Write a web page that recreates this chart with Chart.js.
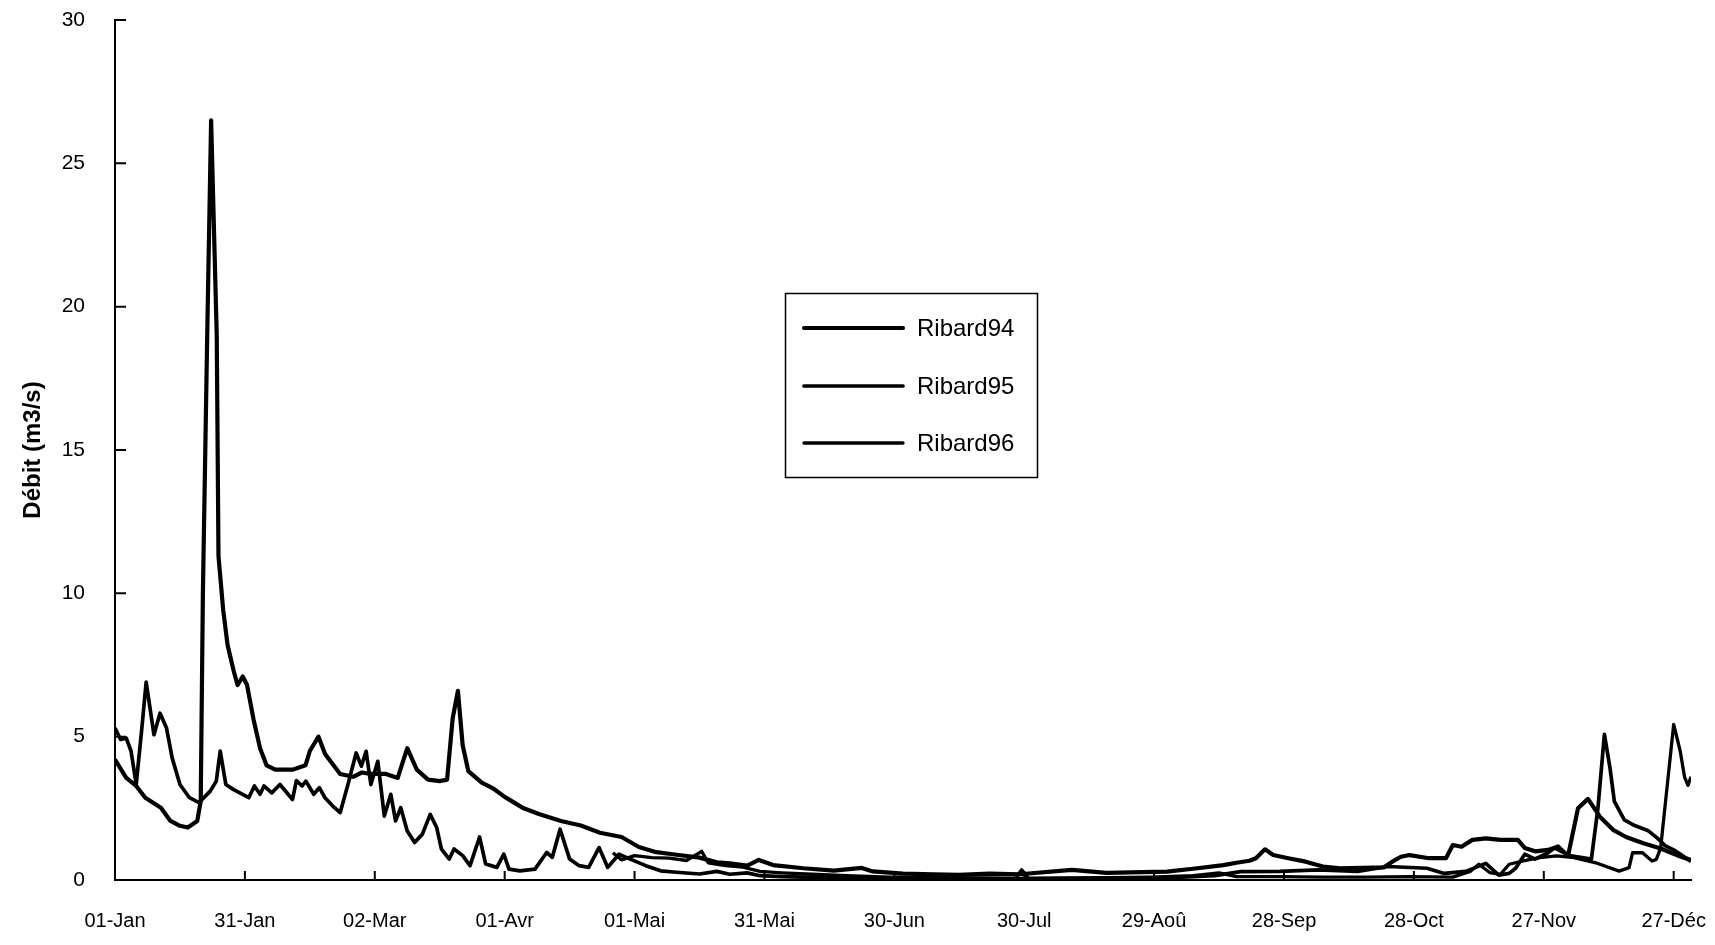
<!DOCTYPE html>
<html>
<head>
<meta charset="utf-8">
<script src="https://cdn.jsdelivr.net/npm/chart.js@4.4.0/dist/chart.umd.min.js"></script>
<style>
  html, body { margin: 0; padding: 0; background: #fff; }
  #wrap { width: 1715px; height: 945px; }
</style>
</head>
<body>
<div id="wrap"><canvas id="chart" width="1715" height="945"></canvas></div>
<script>
// x axis: day of year, labelled every 30 days
const tickDays = [1, 31, 61, 91, 121, 151, 181, 211, 241, 271, 301, 331, 361];
const tickLabels = ['01-Jan', '31-Jan', '02-Mar', '01-Avr', '01-Mai', '31-Mai', '30-Jun',
  '30-Jul', '29-Aoû', '28-Sep', '28-Oct', '27-Nov', '27-Déc'];
const yTicks = [0, 5, 10, 15, 20, 25, 30];

const seriesNames = ['Ribard94', 'Ribard95', 'Ribard96'];

// Ribard94 (big January flood)
const days94 = [1, 3.6, 5.9, 8, 11.6, 13.8, 16, 17.8, 20, 20.8, 21.3, 22.3, 23.2, 24.5, 24.9, 26, 27,
  28.4, 29.3, 30.5, 31.5, 33, 34.5, 36, 38, 42, 45, 46, 48, 49.5, 51, 53, 56, 58, 60, 63.6, 66.3,
  68.5, 70.7, 73.3, 76, 77.7, 79, 80.2, 81.3, 82.6, 85.7, 88.3, 91, 95.4, 98.9, 104, 108.6, 113,
  118, 122, 126, 130.7, 136, 140, 143, 147, 149.7, 153, 160, 167, 173.5, 176, 183, 190, 196, 203,
  210, 222, 230, 244, 251, 257, 260, 263, 264.5, 266.6, 268.5, 272, 276, 280, 284, 294, 296, 298,
  300, 304.5, 308.4, 310, 312, 314.5, 317.6, 321, 325, 326.6, 329, 332, 334.3, 336.6, 338.9,
  341.2, 344, 347, 350, 354, 358, 362, 365];
const flow94 = [4.2, 3.56, 3.28, 2.87, 2.52, 2.06, 1.89, 1.83, 2.06, 2.75, 10, 19, 26.5, 19, 11.3, 9.4, 8.2,
  7.3, 6.8, 7.1, 6.8, 5.6, 4.6, 4.0, 3.85, 3.85, 4.0, 4.5, 5.0, 4.4, 4.1, 3.7, 3.6, 3.75, 3.7, 3.7, 3.56,
  4.6, 3.85, 3.5, 3.45, 3.5, 5.65, 6.6, 4.7, 3.8, 3.4, 3.2, 2.9, 2.5, 2.3, 2.06, 1.9, 1.65,
  1.5, 1.15, 0.97, 0.88, 0.78, 0.62, 0.58, 0.5, 0.7, 0.52, 0.41, 0.33, 0.42, 0.3, 0.22, 0.2, 0.18, 0.22,
  0.2, 0.35, 0.25, 0.29, 0.41, 0.52, 0.6, 0.67, 0.76, 1.07, 0.87, 0.76, 0.64, 0.47, 0.41, 0.44, 0.64, 0.81,
  0.87, 0.76, 0.76, 1.22, 1.16, 1.4, 1.45, 1.4, 1.4, 1.12, 1.0, 1.05, 1.17, 0.84, 2.5,
  2.83, 2.2, 1.75, 1.5, 1.28, 1.1, 0.85, 0.7];

// Ribard95 (spiky spring, November flood)
const days95 = [1, 2.3, 3.6, 4.7, 5.9, 7.2, 8.2, 10, 11.4, 12.9, 14.2, 16, 18.2, 20.4, 23, 24.4, 25.3,
  26.6, 28.3, 31.9, 33.2, 34.5, 35.4, 37.2, 39.1, 42, 42.9, 44.2, 45.1, 46.9, 48.2, 49.5, 51.3, 53,
  54.8, 56.7, 57.9, 59, 60.1, 61.7, 63.2, 64.7, 65.8, 67, 68.5, 70.2, 72, 73.8, 75.3, 76.4, 78.2,
  79.3, 81.3, 83, 85.2, 86.6, 89.2, 90.8, 92, 94.5, 98, 100.7, 102, 103.8, 106, 108.2, 110.4, 112.8,
  114.8, 117.4, 120, 123.6, 127, 130.7, 136, 140, 143, 147, 150, 155, 160, 170, 180, 190, 200, 209,
  210.4, 212, 225, 235, 245, 255, 261, 270, 279, 288, 295, 304, 308, 313, 317.6, 320.6, 323, 324.5,
  326.6, 329, 332, 333.5, 335, 337.3, 342, 343.5, 345, 346.3, 347.3, 349.6, 352, 355, 357.3, 359,
  361, 363, 365];
const flow95 = [5.3, 4.9, 4.95, 4.5, 3.33, 5.3, 6.9, 5.07, 5.82, 5.3, 4.26, 3.33, 2.87, 2.7, 3.1, 3.45, 4.5,
  3.33, 3.16, 2.87, 3.28, 2.99, 3.28, 3.04, 3.33, 2.81, 3.47, 3.28, 3.45, 2.99, 3.22, 2.87, 2.58, 2.35,
  3.33, 4.43, 3.97, 4.49, 3.33, 4.14, 2.23, 2.99, 2.06, 2.52, 1.71, 1.31, 1.6, 2.29, 1.83, 1.08, 0.73,
  1.08, 0.85, 0.5, 1.5, 0.56, 0.44, 0.9, 0.38, 0.32, 0.38, 0.96, 0.79, 1.77, 0.73, 0.5, 0.44, 1.13,
  0.44, 0.9, 0.73, 0.5, 0.32, 0.27, 0.21, 0.3, 0.2, 0.25, 0.15, 0.12, 0.1, 0.08, 0.06, 0.05, 0.05, 0.06,
  0.35, 0.05, 0.05, 0.06, 0.08, 0.15, 0.29, 0.3, 0.35, 0.3, 0.47, 0.41, 0.23, 0.3, 0.58, 0.17, 0.23, 0.41,
  0.9, 0.73, 0.95, 1.12, 1.0, 0.84, 0.73, 2.5, 5.08, 3.9, 2.74, 2.1, 1.9, 1.73, 1.45, 1.2,
  1.05, 0.85, 0.65];

// Ribard96 (record starts late April, December flood)
const days96 = [116, 118, 121, 125, 129, 133, 136.5, 138, 142, 146, 150, 155, 162, 170, 180, 190, 200,
  210, 220, 230, 240, 250, 256, 260, 270, 280, 290, 300, 310, 314, 316, 318.5, 321, 323, 326, 330,
  334, 338, 343, 348.4, 350.7, 351.5, 353.8, 356, 357, 358, 361, 362.5, 363.5, 364.3, 365];
const flow96 = [0.95, 0.7, 0.85, 0.78, 0.76, 0.68, 1.0, 0.6, 0.5, 0.45, 0.3, 0.25, 0.2, 0.15, 0.1, 0.08, 0.07,
  0.06, 0.07, 0.08, 0.1, 0.15, 0.25, 0.12, 0.12, 0.1, 0.1, 0.12, 0.1, 0.3, 0.55, 0.26, 0.2, 0.55, 0.66, 0.78,
  0.84, 0.78, 0.6, 0.31, 0.43, 0.95, 0.95, 0.66, 0.72, 1.13, 5.43, 4.5, 3.6, 3.3, 3.6];

const toPoints = (days, flows) => days.map((d, i) => ({ x: d, y: flows[i] }));

// draws the short inward tick marks of the original
const innerTicks = {
  id: 'innerTicks',
  afterDatasetsDraw(chart) {
    const { ctx, chartArea, scales } = chart;
    ctx.save();
    ctx.strokeStyle = '#000';
    ctx.lineWidth = 2;
    ctx.beginPath();
    yTicks.forEach(v => {
      const py = scales.y.getPixelForValue(v);
      ctx.moveTo(chartArea.left, py);
      ctx.lineTo(chartArea.left + 11, py);
    });
    tickDays.forEach(d => {
      if (d === tickDays[0]) return;
      const px = scales.x.getPixelForValue(d);
      ctx.moveTo(px, chartArea.bottom);
      ctx.lineTo(px, chartArea.bottom - 9);
    });
    ctx.stroke();
    ctx.restore();
  }
};

// boxed legend floating in the middle of the plot
const LEG = { x: 785, y: 293, w: 252, h: 184, rows: [328, 386, 443], x0: 804, x1: 903, tx: 917 };
const boxLegend = {
  id: 'boxLegend',
  afterDraw(chart) {
    const ctx = chart.ctx;
    ctx.save();
    ctx.fillStyle = '#fff';
    ctx.fillRect(LEG.x, LEG.y, LEG.w, LEG.h);
    ctx.strokeStyle = '#000';
    ctx.lineWidth = 1.5;
    ctx.strokeRect(LEG.x + 0.5, LEG.y + 0.5, LEG.w, LEG.h);
    chart.data.datasets.forEach((ds, i) => {
      const yy = LEG.rows[i];
      ctx.lineWidth = ds.borderWidth;
      ctx.lineCap = 'round';
      ctx.beginPath();
      ctx.moveTo(LEG.x0, yy);
      ctx.lineTo(LEG.x1, yy);
      ctx.stroke();
      ctx.fillStyle = '#000';
      ctx.font = '24px Arial, "Liberation Sans", sans-serif';
      ctx.textBaseline = 'middle';
      ctx.fillText(ds.label, LEG.tx, yy + 1);
    });
    ctx.restore();
  }
};

const widths = [4.2, 3.7, 3.3];
const seriesData = [toPoints(days94, flow94), toPoints(days95, flow95), toPoints(days96, flow96)];

new Chart(document.getElementById('chart'), {
  type: 'line',
  data: {
    datasets: seriesNames.map((name, i) => ({
      label: name,
      data: seriesData[i],
      borderColor: '#000',
      borderWidth: widths[i],
      pointRadius: 0,
      tension: 0,
      fill: false,
      borderJoinStyle: 'round'
    }))
  },
  options: {
    responsive: false,
    animation: false,
    devicePixelRatio: 1,
    layout: { padding: { top: 20, right: 24, left: 0, bottom: 0 } },
    plugins: {
      legend: { display: false },
      tooltip: { enabled: false }
    },
    scales: {
      x: {
        type: 'linear',
        min: 1,
        max: 365,
        afterBuildTicks: s => { s.ticks = tickDays.map(v => ({ value: v })); },
        afterFit: s => { s.height = 65; s.paddingLeft = 0; s.paddingRight = 0; },
        ticks: {
          autoSkip: false,
          maxRotation: 0,
          padding: 29,
          color: '#000',
          font: { family: 'Arial, "Liberation Sans", sans-serif', size: 20 },
          callback: v => tickLabels[tickDays.indexOf(v)]
        },
        grid: { display: false, drawTicks: false },
        border: { display: true, color: '#000', width: 2 }
      },
      y: {
        min: 0,
        max: 30,
        afterBuildTicks: s => { s.ticks = yTicks.map(v => ({ value: v })); },
        afterFit: s => { s.width = 115; s.paddingTop = 0; s.paddingBottom = 0; },
        ticks: {
          padding: 30,
          color: '#000',
          font: { family: 'Arial, "Liberation Sans", sans-serif', size: 21 }
        },
        grid: { display: false, drawTicks: false },
        border: { display: true, color: '#000', width: 2 },
        title: {
          display: true,
          text: 'Débit (m3/s)',
          color: '#000',
          font: { family: 'Arial, "Liberation Sans", sans-serif', size: 24, weight: 'bold' },
          padding: { top: 19, bottom: 0 }
        }
      }
    }
  },
  plugins: [innerTicks, boxLegend]
});
</script>
</body>
</html>
